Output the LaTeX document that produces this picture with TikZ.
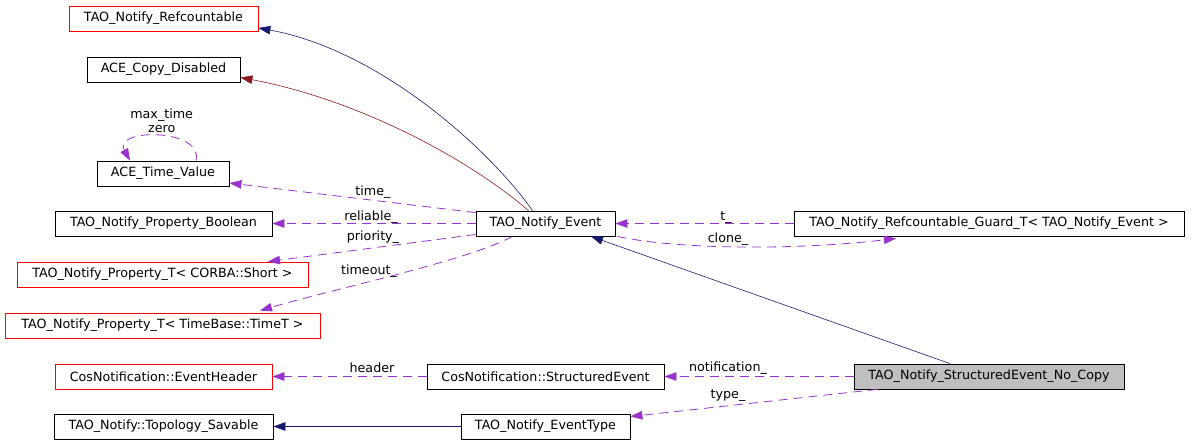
\documentclass[tikz,border=0pt]{standalone}
\usepackage{fontspec}
\setmainfont{DejaVu Sans}
\usetikzlibrary{arrows.meta}
\definecolor{inhblue}{HTML}{191970}
\definecolor{inhred}{HTML}{8B1A1A}
\definecolor{usepurple}{HTML}{9A32CD}
\definecolor{boxgray}{HTML}{BFBFBF}
\tikzset{
  cls/.style={draw=black, rectangle, minimum height=25pt, inner sep=0pt, font=\fontsize{12.7}{14}\selectfont, line width=0.8pt},
  redcls/.style={cls, draw=red},
  lbl/.style={font=\fontsize{12.7}{14}\selectfont, inner sep=0pt, text height=9pt, text depth=3pt},
  inh/.style={draw=inhblue, line width=0.6pt, arrows={-{Triangle[length=12pt,width=8.5pt,fill=inhblue]}}},
  inhr/.style={draw=inhred, line width=0.6pt, arrows={-{Triangle[length=12pt,width=8.5pt,fill=inhred]}}},
  usesrel/.style={draw=usepurple, line width=0.8pt, dash pattern=on 9pt off 6pt, arrows={-{Triangle[length=12pt,width=8.5pt,fill=usepurple]}}},
}
\begin{document}
\begin{tikzpicture}[x=1pt,y=-1pt]
\useasboundingbox (0,0) rectangle (1195,445);
% nodes
\node[redcls, minimum width=189pt] (ref) at (163.5,18.5) {TAO\_Notify\_Refcountable};
\node[cls, minimum width=153pt] (acd) at (163.5,69.5) {ACE\_Copy\_Disabled};
\node[cls, minimum width=132pt] (atv) at (163,173.5) {ACE\_Time\_Value};
\node[cls, minimum width=217pt] (pb) at (163.5,223.5) {TAO\_Notify\_Property\_Boolean};
\node[redcls, minimum width=291pt] (pts) at (162.5,274.5) {TAO\_Notify\_Property\_T< CORBA::Short >};
\node[redcls, minimum width=315pt] (ptt) at (162.5,325.5) {TAO\_Notify\_Property\_T< TimeBase::TimeT >};
\node[redcls, minimum width=217pt] (eh) at (163.5,376.5) {CosNotification::EventHeader};
\node[cls, minimum width=219pt] (ts) at (163.5,426.5) {TAO\_Notify::Topology\_Savable};
\node[cls, minimum width=139pt] (ev) at (545.5,223.5) {TAO\_Notify\_Event};
\node[cls, minimum width=237pt] (se) at (545.5,376.5) {CosNotification::StructuredEvent};
\node[cls, minimum width=169pt] (et) at (545.5,426.5) {TAO\_Notify\_EventType};
\node[cls, minimum width=390pt] (guard) at (989,223.5) {TAO\_Notify\_Refcountable\_Guard\_T< TAO\_Notify\_Event >};
\node[cls, fill=boxgray, minimum width=270pt] (nc) at (989,376.5) {TAO\_Notify\_StructuredEvent\_No\_Copy};
% inheritance
\draw[inh] ([xshift=-13pt]ev.north) .. controls (490,150) and (380,50) .. ([yshift=-9.5pt]ref.east);
\draw[inhr] ([xshift=-17pt]ev.north) .. controls (470,160) and (360,100) .. ([yshift=-8pt]acd.east);
\draw[inh] ([xshift=-39pt]nc.north) -- ([xshift=45.5pt]ev.south);
\draw[inh] (et.west) -- (ts.east);
% usage
\draw[usesrel] ([xshift=33pt]atv.north) .. controls (204,128) and (112,128) .. ([xshift=-33pt]atv.north);
\node[lbl, align=center, text height=, text depth=] (lmax) at (161.7,120.5) {max\_time\\zero};
\draw[usesrel] ([yshift=-2pt]ev.north west) -- ([yshift=-9.5pt]atv.east);
\node[lbl] (ltime) at (373,192) {time\_};
\draw[usesrel] (ev.west) -- (pb.east);
\node[lbl] (lrel) at (371,217) {reliable\_};
\draw[usesrel] ([yshift=-11pt]ev.west) -- ([xshift=105.5pt]pts.north);
\node[lbl] (lpri) at (373,237) {priority\_};
\draw[usesrel] ([xshift=-33pt]ev.south) .. controls (470,260) and (330,290) .. ([xshift=97.5pt,yshift=2pt]ptt.north);
\node[lbl] (ltmo) at (369,271) {timeout\_};
\draw[usesrel] (guard.west) -- (ev.east);
\node[lbl] (lt) at (726,217) {t\_};
\draw[usesrel] ([xshift=2pt]ev.south east) .. controls (680,250) and (800,250) .. ([xshift=-93pt,yshift=-2pt]guard.south);
\node[lbl] (lclone) at (728,239) {clone\_};
\draw[usesrel] (nc.west) -- (se.east);
\node[lbl] (lnot) at (728,368) {notification\_};
\draw[usesrel] ([xshift=-112pt]nc.south) -- ([yshift=10pt]et.east);
\node[lbl] (ltype) at (728,395) {type\_};
\draw[usesrel] (se.west) -- (eh.east);
\node[lbl] (lhead) at (372,369) {header};
\end{tikzpicture}
\end{document}
